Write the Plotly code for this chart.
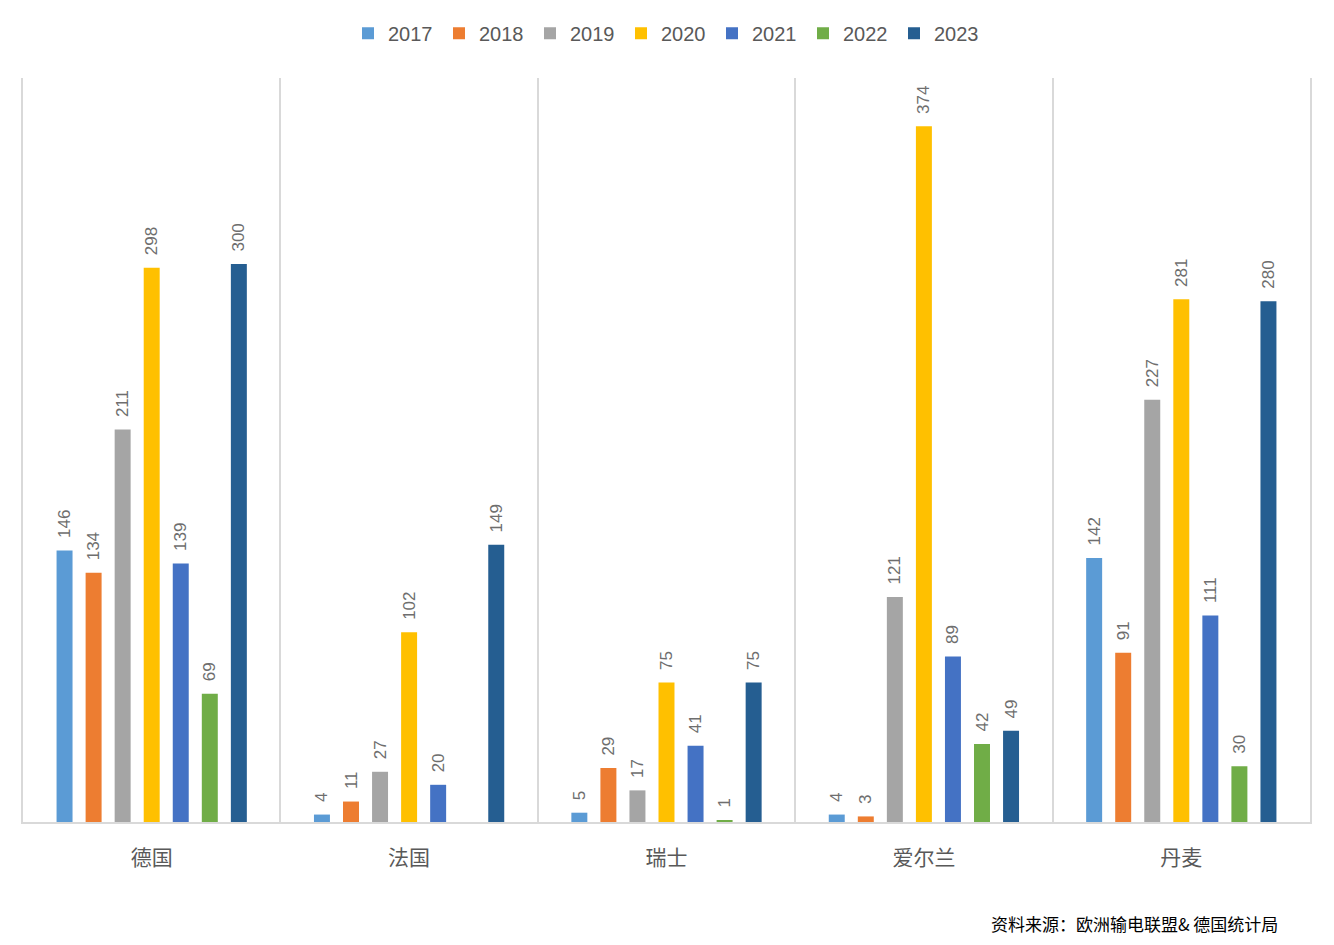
import plotly.graph_objects as go

categories = ["德国", "法国", "瑞士", "爱尔兰", "丹麦"]
years = ["2017", "2018", "2019", "2020", "2021", "2022", "2023"]
values = {
    "2017": [146, 4, 5, 4, 142],
    "2018": [134, 11, 29, 3, 91],
    "2019": [211, 27, 17, 121, 227],
    "2020": [298, 102, 75, 374, 281],
    "2021": [139, 20, 41, 89, 111],
    "2022": [69, None, 1, 42, 30],
    "2023": [300, 149, 75, 49, 280],
}
colors = {
    "2017": "#5B9BD5",
    "2018": "#ED7D31",
    "2019": "#A5A5A5",
    "2020": "#FFC000",
    "2021": "#4472C4",
    "2022": "#70AD47",
    "2023": "#255E91",
}
source_text = "资料来源：欧洲输电联盟& 德国统计局"

FONT = "Liberation Sans, Noto Sans CJK SC, sans-serif"
CJK = "Noto Sans CJK SC, sans-serif"
GRAY = "#595959"

fig = go.Figure()
for y in years:
    vals = values[y]
    fig.add_trace(go.Bar(
        name=y,
        x=categories,
        y=vals,
        marker=dict(color=colors[y], line=dict(width=0)),
        text=[("" if v is None else "\u00a0\u00a0" + str(v)) for v in vals],
        textposition="outside",
        textangle=-90,
        constraintext="none",
        textfont=dict(family=FONT, size=17, color="#6E6E6E"),
        cliponaxis=False,
    ))

fig.update_layout(
    width=1334, height=945,
    margin=dict(l=23, r=24, t=78, b=123),
    paper_bgcolor="white", plot_bgcolor="white",
    barmode="group", bargap=0.21, bargroupgap=0.45,
    font=dict(family=FONT, color=GRAY),
    legend=dict(
        orientation="h", x=0.5, xanchor="center", y=1.06, yanchor="middle",
        font=dict(family=FONT, size=20, color=GRAY),
        entrywidth=46, entrywidthmode="pixels",
        traceorder="normal",
    ),
    xaxis=dict(
        type="category",
        showgrid=True, gridcolor="#D9D9D9", gridwidth=1.5,
        tickson="boundaries",
        showline=True, linecolor="#D9D9D9", linewidth=2,
        ticks="", ticklabelstandoff=16,
        tickfont=dict(family=CJK, size=21, color=GRAY),
    ),
    yaxis=dict(
        range=[0, 400], showgrid=False, zeroline=False,
        showticklabels=False, ticks="",
        showline=True, linecolor="#D9D9D9", linewidth=1.5, mirror=True,
    ),
    annotations=[dict(
        text=source_text, xref="paper", yref="paper",
        x=0.977, y=-0.136, xanchor="right", yanchor="middle",
        showarrow=False, font=dict(family=CJK, size=17, color="#000000"),
    )],
)

fig.write_html("out.html")
